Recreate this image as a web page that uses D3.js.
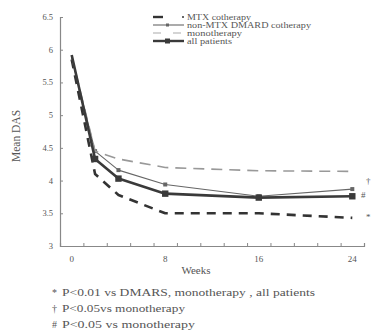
<!DOCTYPE html>
<html><head><meta charset="utf-8">
<script src="https://cdn.jsdelivr.net/npm/d3@7"></script>
<style>body{margin:0;background:#fff}svg{display:block}text{font-family:"Liberation Serif","DejaVu Serif",serif;fill:#555}</style>
</head><body>
<script>
const weeks = [0, 2, 4, 8, 16, 24];
const mtx = [5.85, 4.1, 3.78, 3.5, 3.5, 3.43];
const nonMtx = [5.88, 4.45, 4.16, 3.94, 3.76, 3.87];
const mono = [5.9, 4.45, 4.33, 4.2, 4.15, 4.14];
const allPts = [5.92, 4.33, 4.03, 3.8, 3.74, 3.76];
const yTicks = [3, 3.5, 4, 4.5, 5, 5.5, 6, 6.5];
const yTickLabels = ["3", "3.5", "4", "4.5", "5", "5.5", "6", "6.5"];
const xTicks = [0, 8, 16, 24];
const xMinor = [-1, 1, 3, 5, 7, 9, 11, 13, 15, 17, 19, 21, 23, 25];
const legendNames = ["MTX cotherapy", "non-MTX DMARD cotherapy", "monotherapy", "all patients"];
const endMarks = ["†", "#", "*"];
const notes = ["P<0.01 vs DMARS, monotherapy , all patients", "P<0.05vs monotherapy", "P<0.05 vs monotherapy"];
const noteSyms = ["*", "†", "#"];

const W = 371, H = 334;
const svg = d3.select("body").append("svg").attr("width", W).attr("height", H);
const x = d3.scaleLinear().domain([-1, 25]).range([60, 364]);
const y = d3.scaleLinear().domain([3, 6.5]).range([246, 17]);

// axes
const yAxis = d3.axisRight(y).tickValues(yTicks).tickSize(3).tickFormat("");
const gy = svg.append("g").attr("transform", "translate(60,0)").call(yAxis);
gy.select(".domain").attr("stroke", "#888").attr("stroke-width", 1.2);
gy.selectAll(".tick line").attr("stroke", "#888");
yTicks.forEach((t, i) => {
  svg.append("text").attr("x", 53).attr("y", y(t) + 3).attr("text-anchor", "end")
    .attr("font-size", 8.5).text(yTickLabels[i]);
});
const xAxis = d3.axisTop(x).tickValues(xMinor).tickSize(3).tickFormat("");
const gx = svg.append("g").attr("transform", "translate(0,246)").call(xAxis);
gx.select(".domain").attr("stroke", "#888").attr("stroke-width", 1.2);
gx.selectAll(".tick line").attr("stroke", "#888");
xTicks.forEach(t => {
  svg.append("text").attr("x", x(t)).attr("y", 262).attr("text-anchor", "middle")
    .attr("font-size", 9).text(t);
});
svg.append("text").attr("x", 196).attr("y", 274).attr("text-anchor", "middle")
  .attr("font-size", 11).text("Weeks");
svg.append("text").attr("transform", "translate(20,136) rotate(-90)").attr("text-anchor", "middle")
  .attr("font-size", 11.5).text("Mean DAS");

const line = d3.line().x((d, i) => x(weeks[i])).y(d => y(d));
const styles = [
  {data: mtx, stroke: "#333", w: 2.6, dash: "9,7"},
  {data: nonMtx, stroke: "#666", w: 1.1, dash: null, mk: 2},
  {data: mono, stroke: "#999", w: 1.6, dash: "11,7"},
  {data: allPts, stroke: "#3a3a3a", w: 2.6, dash: null, mk: 3.2}
];
styles.forEach(s => {
  svg.append("path").datum(s.data).attr("d", line).attr("fill", "none")
    .attr("stroke", s.stroke).attr("stroke-width", s.w)
    .attr("stroke-dasharray", s.dash).attr("stroke-linejoin", "round");
  if (s.mk) {
    svg.selectAll(null).data(s.data.slice(1)).enter().append("rect")
      .attr("x", (d, i) => x(weeks[i + 1]) - s.mk).attr("y", d => y(d) - s.mk)
      .attr("width", s.mk * 2).attr("height", s.mk * 2).attr("fill", s.stroke);
  }
});
// end annotations
const endVals = [nonMtx[5] + 0.12, allPts[5] + 0.02, mtx[5] + 0.02];
endMarks.forEach((m, i) => {
  svg.append("text").attr("x", i === 1 ? 361 : 366).attr("y", y(endVals[i]) + 3)
    .attr("font-size", 9).text(m);
});

// legend
const ly = [17, 25, 33, 41];
const lg = svg.append("g");
lg.append("line").attr("x1", 153).attr("x2", 163).attr("y1", ly[0]).attr("y2", ly[0]).attr("stroke", "#333").attr("stroke-width", 2.4);
lg.append("circle").attr("cx", 183).attr("cy", ly[0]).attr("r", 1).attr("fill", "#333");
lg.append("line").attr("x1", 153).attr("x2", 184).attr("y1", ly[1]).attr("y2", ly[1]).attr("stroke", "#666").attr("stroke-width", 1.1);
lg.append("rect").attr("x", 166).attr("y", ly[1] - 1.5).attr("width", 3).attr("height", 3).attr("fill", "#666");
lg.append("line").attr("x1", 153).attr("x2", 184).attr("y1", ly[2]).attr("y2", ly[2]).attr("stroke", "#aaa").attr("stroke-width", 1.2).attr("stroke-dasharray", "8,12");
lg.append("line").attr("x1", 153).attr("x2", 184).attr("y1", ly[3]).attr("y2", ly[3]).attr("stroke", "#3a3a3a").attr("stroke-width", 2.4);
lg.append("rect").attr("x", 165).attr("y", ly[3] - 2.5).attr("width", 5).attr("height", 5).attr("fill", "#3a3a3a");
const legendLens = [64, 124, 55, 45];
legendNames.forEach((n, i) => {
  lg.append("text").attr("x", 187).attr("y", ly[i] + 2.5).attr("font-size", 7.8)
    .attr("textLength", legendLens[i]).attr("lengthAdjust", "spacingAndGlyphs").text(n);
});

// footnotes
const ny = [296, 312, 328];
const noteLens = [253, 123, 133];
notes.forEach((n, i) => {
  svg.append("text").attr("x", 52).attr("y", ny[i]).attr("font-size", 10).text(noteSyms[i]);
  svg.append("text").attr("x", 62).attr("y", ny[i]).attr("font-size", 10.5)
    .attr("textLength", noteLens[i]).attr("lengthAdjust", "spacingAndGlyphs").text(n);
});
</script>
</body></html>
